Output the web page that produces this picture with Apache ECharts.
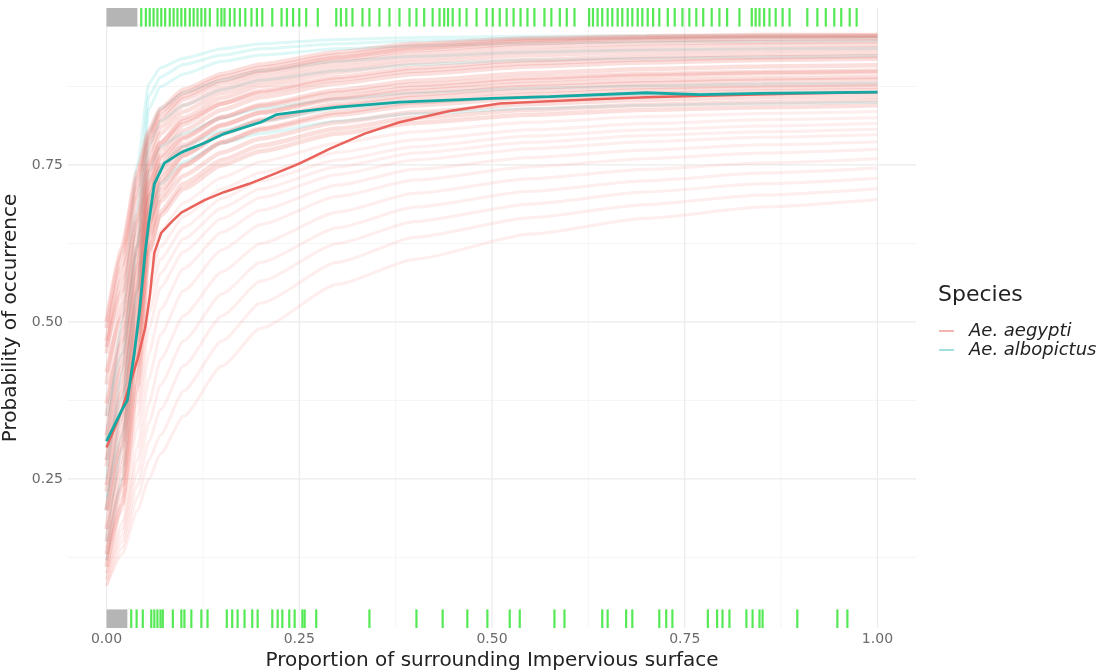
<!DOCTYPE html>
<html><head><meta charset="utf-8">
<script src="https://cdn.jsdelivr.net/npm/echarts@6/dist/echarts.min.js"></script>
<style>html,body{margin:0;padding:0;background:#fff}#c{width:1111px;height:671px}</style>
</head><body><div id="c"></div>
<script>
// ---------- data ----------
const xTicks = [0, 0.25, 0.5, 0.75, 1.0];
const yTicks = [0.25, 0.5, 0.75];
const xMinor = [0.125, 0.375, 0.625, 0.875];
const yMinor = [0.125, 0.375, 0.625, 0.875];

// x positions at which the bootstrap curves were read
const bootX = [0, 0.02, 0.04, 0.055, 0.07, 0.1, 0.15, 0.2, 0.3, 0.4, 0.55, 0.7, 0.85, 1.0];

// upper (dense) group of Ae. aegypti bootstrap curves
const aegyptiBootUpper = [
  [0.50,0.62,0.74,0.805,0.84,0.87,0.895,0.91,0.93,0.943,0.952,0.955,0.957,0.957],
  [0.49,0.61,0.73,0.80,0.835,0.865,0.89,0.905,0.925,0.94,0.95,0.954,0.956,0.956],
  [0.47,0.59,0.715,0.792,0.828,0.86,0.885,0.9,0.921,0.936,0.947,0.952,0.954,0.955],
  [0.45,0.57,0.70,0.785,0.82,0.855,0.88,0.897,0.918,0.933,0.944,0.949,0.951,0.952],
  [0.40,0.53,0.67,0.77,0.81,0.845,0.872,0.89,0.912,0.927,0.939,0.944,0.946,0.947],
  [0.35,0.49,0.64,0.755,0.80,0.835,0.865,0.883,0.905,0.92,0.932,0.938,0.941,0.942],
  [0.31,0.45,0.61,0.74,0.785,0.825,0.857,0.876,0.898,0.913,0.925,0.931,0.934,0.936],
  [0.27,0.41,0.58,0.725,0.775,0.815,0.848,0.868,0.89,0.905,0.917,0.924,0.927,0.929],
  [0.46,0.55,0.66,0.75,0.785,0.82,0.848,0.865,0.886,0.9,0.912,0.918,0.921,0.923],
  [0.23,0.37,0.55,0.71,0.765,0.805,0.838,0.858,0.88,0.895,0.907,0.913,0.917,0.919],
  [0.20,0.33,0.52,0.695,0.75,0.792,0.826,0.846,0.869,0.884,0.896,0.903,0.907,0.909],
  [0.42,0.51,0.62,0.72,0.76,0.795,0.826,0.844,0.865,0.878,0.889,0.895,0.898,0.9],
  [0.17,0.30,0.49,0.675,0.735,0.778,0.813,0.834,0.858,0.873,0.885,0.892,0.896,0.898],
  [0.37,0.47,0.59,0.70,0.745,0.782,0.814,0.833,0.855,0.868,0.879,0.885,0.888,0.89],
  [0.15,0.27,0.46,0.655,0.72,0.765,0.8,0.822,0.847,0.862,0.874,0.88,0.884,0.886],
  [0.32,0.43,0.56,0.68,0.727,0.766,0.8,0.82,0.843,0.857,0.868,0.874,0.877,0.879],
  [0.13,0.24,0.43,0.635,0.70,0.748,0.786,0.808,0.834,0.85,0.862,0.869,0.873,0.875],
  [0.28,0.39,0.53,0.66,0.71,0.75,0.786,0.806,0.83,0.845,0.857,0.863,0.867,0.869],
  [0.24,0.35,0.50,0.64,0.692,0.733,0.77,0.792,0.818,0.834,0.847,0.854,0.858,0.86],
  [0.11,0.21,0.40,0.61,0.676,0.72,0.758,0.781,0.808,0.825,0.838,0.846,0.85,0.853],
  [0.20,0.31,0.47,0.615,0.67,0.712,0.75,0.772,0.8,0.817,0.83,0.838,0.842,0.845]
];
// lower (sparse, faint) group of Ae. aegypti bootstrap curves
const aegyptiBootLower = [
  [0.17,0.28,0.44,0.59,0.645,0.69,0.73,0.755,0.785,0.803,0.818,0.827,0.832,0.835],
  [0.14,0.25,0.41,0.565,0.62,0.668,0.712,0.738,0.77,0.79,0.806,0.816,0.822,0.825],
  [0.13,0.24,0.39,0.54,0.60,0.65,0.697,0.725,0.758,0.779,0.796,0.806,0.812,0.816],
  [0.12,0.22,0.37,0.515,0.578,0.632,0.682,0.712,0.747,0.769,0.786,0.797,0.803,0.807],
  [0.12,0.21,0.35,0.49,0.555,0.612,0.665,0.698,0.735,0.758,0.776,0.787,0.794,0.798],
  [0.11,0.20,0.33,0.45,0.52,0.585,0.643,0.678,0.718,0.743,0.762,0.774,0.782,0.787],
  [0.10,0.18,0.30,0.41,0.48,0.55,0.615,0.655,0.70,0.726,0.747,0.76,0.769,0.775],
  [0.10,0.17,0.28,0.37,0.44,0.51,0.58,0.625,0.675,0.705,0.728,0.743,0.753,0.76],
  [0.09,0.16,0.26,0.34,0.40,0.47,0.545,0.595,0.65,0.683,0.708,0.725,0.737,0.745],
  [0.09,0.15,0.24,0.31,0.36,0.43,0.51,0.565,0.625,0.66,0.688,0.707,0.72,0.729],
  [0.08,0.14,0.22,0.28,0.32,0.39,0.47,0.53,0.595,0.635,0.666,0.687,0.702,0.712],
  [0.08,0.13,0.20,0.25,0.29,0.35,0.43,0.49,0.56,0.60,0.64,0.665,0.683,0.695]
];

const albopictusBoot = [
  [0.30,0.50,0.75,0.88,0.905,0.92,0.935,0.943,0.95,0.953,0.955,0.956,0.956,0.956],
  [0.25,0.42,0.68,0.86,0.89,0.91,0.925,0.935,0.943,0.948,0.951,0.952,0.953,0.953],
  [0.20,0.36,0.62,0.84,0.875,0.895,0.915,0.925,0.935,0.94,0.944,0.946,0.947,0.948],
  [0.35,0.45,0.62,0.80,0.84,0.865,0.885,0.90,0.915,0.923,0.93,0.933,0.935,0.936],
  [0.15,0.30,0.55,0.78,0.82,0.845,0.87,0.885,0.90,0.91,0.917,0.92,0.922,0.924],
  [0.28,0.38,0.55,0.74,0.78,0.80,0.825,0.84,0.855,0.865,0.872,0.876,0.879,0.88],
  [0.12,0.25,0.48,0.70,0.75,0.78,0.805,0.82,0.84,0.85,0.858,0.862,0.865,0.866],
  [0.22,0.32,0.48,0.66,0.72,0.755,0.785,0.80,0.82,0.832,0.84,0.845,0.848,0.85]
];

const aegyptiX = [0,0.01,0.02,0.03,0.04,0.05,0.056,0.062,0.071,0.085,0.097,0.127,0.153,0.185,0.22,0.25,0.29,0.335,0.38,0.445,0.51,0.58,0.64,0.7,0.8,0.9,1.0];
const aegyptiY = [0.30,0.33,0.36,0.40,0.44,0.49,0.54,0.61,0.642,0.66,0.674,0.694,0.707,0.72,0.737,0.752,0.776,0.80,0.818,0.836,0.848,0.852,0.855,0.858,0.861,0.864,0.866];

const albopictusX = [0,0.01,0.02,0.027,0.036,0.043,0.05,0.055,0.062,0.075,0.097,0.127,0.153,0.2,0.22,0.25,0.3,0.38,0.5,0.575,0.7,0.77,0.85,1.0];
const albopictusY = [0.31,0.335,0.36,0.375,0.45,0.52,0.61,0.66,0.72,0.753,0.77,0.785,0.80,0.818,0.83,0.835,0.842,0.85,0.856,0.859,0.865,0.862,0.864,0.866];

const rugTopX = [0.045,0.051,0.056,0.061,0.066,0.071,0.076,0.082,0.087,0.092,0.097,0.102,0.108,0.113,0.118,0.123,0.128,0.134,
  0.144,0.149,0.153,0.160,0.166,0.173,0.180,0.188,0.195,0.202,0.215,0.227,0.234,0.242,0.250,0.259,0.274,
  0.298,0.304,0.311,0.319,0.332,0.341,0.354,0.367,0.380,0.393,0.402,0.412,0.423,0.432,0.438,0.443,0.449,0.458,0.467,0.480,0.493,0.501,
  0.510,0.519,0.528,0.537,0.546,0.555,0.568,0.577,0.588,0.597,0.607,
  0.626,0.631,0.637,0.643,0.650,0.656,0.663,0.669,0.676,0.682,0.689,0.695,0.702,0.709,0.717,
  0.728,0.737,0.747,0.756,0.765,0.774,0.785,0.795,0.805,0.821,
  0.837,0.842,0.847,0.853,0.860,0.868,0.877,0.886,
  0.909,0.922,0.933,0.944,0.953,0.964,0.973];
const rugBottomX = [0.032,0.039,0.047,0.058,0.062,0.066,0.070,0.073,0.086,0.097,0.101,0.110,0.123,0.131,0.156,0.163,0.170,0.179,0.189,0.196,
  0.215,0.222,0.228,0.237,0.244,0.254,0.257,0.272,0.341,0.402,0.436,0.468,0.494,0.523,0.536,0.581,0.594,0.643,0.650,0.674,0.682,
  0.717,0.726,0.734,0.780,0.792,0.799,0.808,0.830,0.838,0.847,0.851,0.896,0.948,0.961];
const rugTopGray = [0, 0.04];
const rugBottomGray = [0, 0.027];

// ---------- chart ----------
const chart = echarts.init(document.getElementById('c'), null, {renderer: 'canvas'});
const FONT = 'DejaVu Sans, Liberation Sans, sans-serif';

function gridLineSeries(values, dir, color, width) {
  return {
    type: 'custom', silent: true, z: 1, clip: true,
    data: values.map(v => dir === 'x' ? [v, 0.5] : [0.5, v]),
    encode: {x: 0, y: 1},
    renderItem: function (params, api) {
      const cs = params.coordSys;
      const p = api.coord([api.value(0), api.value(1)]);
      const shape = dir === 'x'
        ? {x1: p[0], y1: cs.y, x2: p[0], y2: cs.y + cs.height}
        : {x1: cs.x, y1: p[1], x2: cs.x + cs.width, y2: p[1]};
      return {type: 'line', shape: shape, style: {stroke: color, lineWidth: width}};
    }
  };
}

function rugSeries(values, side) {
  return {
    type: 'custom', silent: true, z: 6, clip: false,
    data: values.map(v => [v, 0.5]),
    encode: {x: 0, y: 1},
    renderItem: function (params, api) {
      const cs = params.coordSys;
      const p = api.coord([api.value(0), 0.5]);
      const len = cs.height * 0.03;
      return {type: 'rect',
        shape: {x: p[0] - 1.1, y: side === 'top' ? cs.y : cs.y + cs.height - len, width: 2.2, height: len},
        style: {fill: 'rgba(20,225,20,0.72)'}};
    }
  };
}

function grayBlockSeries(range, side) {
  return {
    type: 'custom', silent: true, z: 5, clip: false,
    data: [[range[0], range[1]]],
    encode: {x: [0, 1]},
    renderItem: function (params, api) {
      const cs = params.coordSys;
      const a = api.coord([api.value(0), 0.5]);
      const b = api.coord([api.value(1), 0.5]);
      const len = cs.height * 0.03;
      return {type: 'rect',
        shape: {x: a[0], y: side === 'top' ? cs.y : cs.y + cs.height - len, width: b[0] - a[0], height: len},
        style: {fill: '#b5b5b5'}};
    }
  };
}

function bootSeries(name, ys, color, width, opacity, z) {
  return {
    name: name, type: 'line', z: z, silent: true,
    showSymbol: false, smooth: 0.2, smoothMonotone: 'x',
    data: bootX.map((x, j) => [x, ys[j]]),
    lineStyle: {color: color, width: width, opacity: opacity}
  };
}

const series = [];
series.push(gridLineSeries(xMinor, 'x', '#f3f3f3', 0.8));
series.push(gridLineSeries(yMinor, 'y', '#f3f3f3', 0.8));
series.push(gridLineSeries(xTicks, 'x', '#ebebeb', 1.2));
series.push(gridLineSeries(yTicks, 'y', '#ebebeb', 1.2));

albopictusBoot.forEach((ys, i) => series.push(bootSeries('albopictus boot ' + (i + 1), ys, '#00BFC4', 3, 0.13, 2)));
aegyptiBootLower.forEach((ys, i) => series.push(bootSeries('aegypti boot L' + (i + 1), ys, '#F8766D', 3, 0.12, 3)));
aegyptiBootUpper.forEach((ys, i) => series.push(bootSeries('aegypti boot U' + (i + 1), ys, '#ee6f66', 4.5, 0.22, 3)));

series.push({
  name: 'Ae. aegypti', type: 'line', z: 4, silent: true, showSymbol: false,
  data: aegyptiX.map((x, j) => [x, aegyptiY[j]]),
  lineStyle: {color: '#e9625b', width: 2.5}, itemStyle: {color: '#e9625b'}
});
series.push({
  name: 'Ae. albopictus', type: 'line', z: 4, silent: true, showSymbol: false,
  data: albopictusX.map((x, j) => [x, albopictusY[j]]),
  lineStyle: {color: '#16a9a4', width: 2.8}, itemStyle: {color: '#16a9a4'}
});

series.push(grayBlockSeries(rugTopGray, 'top'));
series.push(grayBlockSeries(rugBottomGray, 'bottom'));
series.push(rugSeries(rugTopX, 'top'));
series.push(rugSeries(rugBottomX, 'bottom'));

chart.setOption({
  animation: false,
  backgroundColor: '#ffffff',
  textStyle: {fontFamily: FONT},
  title: {
    text: 'Species', left: 933, top: 279,
    textStyle: {fontFamily: FONT, fontSize: 22, fontWeight: 'normal', color: '#222'}
  },
  legend: {
    left: 934, top: 317, orient: 'vertical', selectedMode: false,
    itemWidth: 15, itemHeight: 2, itemGap: 1, icon: 'rect',
    textStyle: {fontFamily: FONT, fontSize: 18, fontStyle: 'italic', color: '#222', padding: [0, 0, 0, 10]},
    data: [
      {name: 'Ae. aegypti', itemStyle: {color: '#f2b5b1'}},
      {name: 'Ae. albopictus', itemStyle: {color: '#9fdfe0'}}
    ]
  },
  grid: {left: 68, right: 195, top: 8, bottom: 43, outerBoundsMode: 'none', containLabel: false},
  xAxis: {
    type: 'value', min: -0.05, max: 1.05,
    name: 'Proportion of surrounding Impervious surface',
    nameLocation: 'middle', nameGap: 18,
    nameTextStyle: {fontFamily: FONT, fontSize: 20, color: '#222'},
    axisLine: {show: false}, axisTick: {show: false}, splitLine: {show: false},
    axisLabel: {customValues: xTicks, formatter: v => v.toFixed(2), margin: 4,
      fontFamily: FONT, fontSize: 14, color: '#6b6b6b'}
  },
  yAxis: {
    type: 'value', min: 0.0125, max: 1.0,
    name: 'Probability of occurrence',
    nameLocation: 'middle', nameGap: 39,
    nameTextStyle: {fontFamily: FONT, fontSize: 20, color: '#222'},
    axisLine: {show: false}, axisTick: {show: false}, splitLine: {show: false},
    axisLabel: {customValues: yTicks, formatter: v => v.toFixed(2), margin: 5,
      fontFamily: FONT, fontSize: 14, color: '#6b6b6b'}
  },
  series: series
});
</script>
</body></html>
